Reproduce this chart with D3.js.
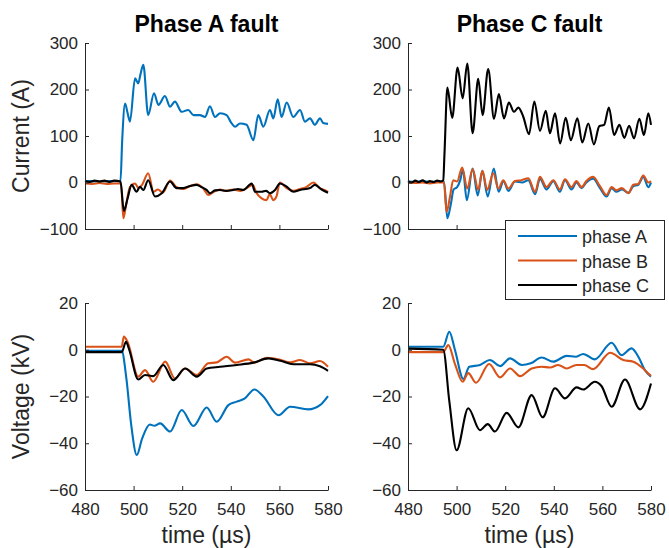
<!DOCTYPE html>
<html><head><meta charset="utf-8">
<script src="https://cdn.jsdelivr.net/npm/d3@7"></script>
<style>
body{margin:0;background:#fff}
text{font-family:"Liberation Sans",Arial,Helvetica,sans-serif;fill:#262626}
</style></head>
<body><svg id="c" width="669" height="548"></svg>
<script>
// ---------- data ----------
const timeTicks = [480, 500, 520, 540, 560, 580];
const currentTicks = [-100, 0, 100, 200, 300];
const voltageTicks = [-60, -40, -20, 0, 20];
const seriesNames = ["phase A", "phase B", "phase C"];
const titles = ["Phase A fault", "Phase C fault"];

// Phase A fault – currents [t (µs), A]
const faultA_curA = [[480,3],[483,3],[486,2],[489,3],[492,3],[494.6,3],[495.3,90],[496.5,170],[497.5,150],[498.5,131],[500.6,224],[501.9,213],[502.8,232],[504,253],[506,145],[508.4,192],[510.2,167],[512.9,186],[515,163],[517,174],[519.8,152],[522.5,156],[524.6,145],[527.3,145],[529.4,141],[531.4,164],[533.5,141],[535.6,149],[538.3,145],[540,130],[541.8,120],[543.8,127],[546.5,124],[549.3,91],[551.3,145],[553.4,120],[556.1,156],[557.5,138],[559.3,179],[560.9,141],[563,172],[565.7,141],[568.5,156],[570.5,131],[572.6,138],[574.6,124],[576.7,138],[578,128],[580,126]];
const faultA_curB = [[480,-2],[483,-3],[486,-1],[489,-3],[492,-2],[494.8,-2],[495.8,-77],[497,-45],[498.5,-10],[500.6,-2],[502,-12],[503.5,-5],[506,20],[508.2,-20],[510,-15],[512,-22],[515,4],[517.7,-10],[520.4,-14],[523,-8],[526,-4],[528.5,-12],[530.8,-27],[533,-20],[535.6,-15],[538,-18],[541,-15],[544,-18],[546.5,-12],[549,-5],[550.5,-22],[552.7,-34],[554.7,-38],[556,-25],[557.5,-38],[558.8,-30],[560.2,0],[563,-12],[565.7,-18],[568.5,-14],[571,-10],[574,0],[576.5,-12],[578.5,-16],[580,-20]];
const faultA_curC = [[480,3],[482,1],[484,4],[486,2],[488,4],[490,1],[492,4],[494.6,2],[496,-61],[497.5,-35],[499.2,-5],[501.2,-20],[502.6,-9],[504,-16],[506,5],[508.8,-30],[511.6,-23],[515,2],[517.7,-12],[520.4,-12],[523,-8],[525.9,-5],[528,-10],[530,-16],[531.4,-23],[533.5,-17],[535.6,-16],[538,-18],[541,-16],[543,-14],[545.2,-16],[548.6,-2],[550,-20],[552.7,-20],[554.5,-18],[556.1,-23],[558.2,-16],[560.2,-2],[563,-9],[565.7,-20],[568.5,-16],[572.6,-12],[574.6,-5],[577.4,-15],[580,-22]];

// Phase C fault – currents [t (µs), A]
const faultC_curA = [[480,2],[483,1],[486,3],[489,1],[492,2],[494.8,2],[496.2,-77],[497.5,-50],[498.8,-15],[500.2,-10],[501.5,5],[502.6,28],[504.2,-38],[506.6,30],[508.7,-28],[510.6,25],[512.8,-30],[515.3,30],[517.3,-20],[519.3,3],[521.3,-18],[524,2],[527,0],[529.5,5],[532.3,-25],[534.3,8],[537,-15],[539.8,3],[542.5,-20],[544.6,5],[547.3,-15],[549.3,0],[551.4,-12],[553.4,0],[556.2,8],[559,-12],[561.7,-30],[563.8,-12],[565.8,-20],[568,-15],[570.7,-22],[572.7,-8],[574.8,-5],[576.8,12],[578.9,-10],[580,0]];
const faultC_curB = [[480,0],[483,-1],[486,0],[489,-2],[492,0],[494.8,0],[495.9,-63],[497.3,-30],[498.6,5],[500.2,2],[502.3,32],[504.4,-13],[506.6,29],[508.9,-16],[510.6,25],[512.6,-16],[515.1,20],[517.2,-13],[519.2,5],[521.3,-13],[524,3],[526.7,5],[529.5,9],[532.3,-20],[534.3,12],[537,-10],[539.8,5],[542.5,-15],[544.6,7],[547.3,-10],[549.3,3],[551.4,-10],[553.4,3],[556.2,12],[559,-8],[561.7,-27],[563.8,-10],[565.8,-17],[568,-12],[570.7,-23],[572.7,-5],[574.8,-3],[576.8,15],[578.9,0],[580,3]];
const faultC_curC = [[480,3],[481.5,0],[483,4],[484.5,1],[486,5],[487.5,0],[489,3],[490.5,1],[492,4],[493.5,2],[494.5,5],[495,60],[496.2,204],[498.2,139],[500.4,247],[502.5,181],[504.4,256],[506.6,106],[508.9,223],[510.7,145],[513,244],[515.4,137],[517.4,190],[519.5,138],[521.5,172],[523.6,152],[525.4,161],[527.4,142],[529.8,104],[532,174],[534.3,111],[536.7,154],[538.4,106],[540.5,149],[542.6,84],[544.9,139],[547,91],[549.7,138],[551.7,86],[554.2,127],[556.5,82],[558.7,121],[560.7,124],[562.7,161],[564.8,102],[567,124],[569,96],[571,122],[573,95],[575.2,137],[577.1,102],[578.9,149],[580,124]];

// Phase A fault – voltages [t (µs), kV]
const faultA_volA = [[480,-0.5],[495.1,-0.5],[497,-12],[499,-32],[501.3,-45],[503.5,-38],[506.7,-32],[508.5,-32.5],[510.9,-31.5],[515,-35],[519.8,-25.8],[524.6,-32.6],[530.1,-24.7],[534.2,-30.8],[539,-23.7],[542.4,-22.2],[545.8,-20.8],[549.7,-17],[553.4,-20],[559.6,-28],[564.4,-24.4],[571.9,-25.5],[576.7,-23.7],[580,-19.8]];
const faultA_volB = [[480,1.3],[495.1,1.3],[496,5.6],[497.5,3.4],[501.9,-11.5],[504.7,-8.7],[508.1,-13.7],[513,-5.1],[517,-12.3],[521.2,-8],[526,-10.8],[530.7,-5.8],[534.2,-5.4],[538.3,-3],[541.8,-5.5],[547.3,-4.1],[549.7,-5.5],[554.7,-3.4],[559.6,-4.1],[564.4,-5.4],[568.5,-4.4],[572.6,-5.8],[576.7,-4.8],[580,-7.3]];
const faultA_volC = [[480,-1],[495.1,-1],[496.9,3.4],[498.2,0],[501.9,-12.7],[504.7,-10.8],[508.1,-11.3],[512.2,-6.5],[516.3,-13],[521.2,-8],[526,-11.5],[530.1,-8],[535.6,-7.3],[542.4,-6.5],[549.3,-5.5],[555.5,-3.7],[560.4,-4.7],[565.8,-6.2],[572.6,-6.2],[576.7,-7.1],[580,-9]];

// Phase C fault – voltages [t (µs), kV]
const faultC_volA = [[480,1.3],[494.5,1.3],[497,7.7],[499.3,0],[502.8,-12.5],[505.2,-7.3],[509.6,-6.5],[513.7,-4.4],[517.9,-7],[522,-3.7],[526.8,-6.5],[530.5,-5.8],[535,-3.3],[539.8,-5.1],[545.3,-2.6],[549,-3],[552.1,-1.8],[556.9,-4.1],[563.8,3],[567.9,-2.3],[572,0.6],[574.8,-3],[577.5,-8.7],[580,-11.5]];
const faultC_volB = [[480,-1],[494.5,-1],[496.6,2],[499.3,-6],[502.5,-13.7],[504.8,-10],[508,-14.1],[513.4,-6.1],[517.9,-11.8],[522,-8],[526.1,-11.3],[530.9,-8],[535,-7.3],[538.5,-7.6],[541.8,-6.5],[545.3,-8],[549.3,-6.5],[552.5,-6.5],[556.2,-8.3],[563.2,-1.3],[568.6,-4.4],[572.7,-5.1],[576.8,-8],[579.6,-10.8],[580,-11]];
const faultC_volC = [[480,0.5],[494.5,0],[497,-22],[500,-43],[504.8,-25],[509.6,-34.4],[512.8,-31.8],[515.8,-35],[520.6,-27],[525.4,-33.2],[530.9,-19.4],[535.4,-28.9],[540.5,-16.5],[544.6,-20.8],[549.4,-16.1],[552.1,-17],[556.9,-13.7],[559.6,-15.5],[563.8,-24.4],[569.3,-12.7],[575.5,-25.5],[580,-14.4]];

// ---------- drawing ----------
const colors = ["#0072BD", "#D95319", "#000000"];
const svg = d3.select("#c");
const cols = [{x0:85, x1:328}, {x0:408, x1:651}];
const rows = [
  {y0:43, y1:229, domain:[-100,300], ticks:currentTicks, label:"Current (A)", xlabels:false,
   data:[[faultA_curA, faultA_curB, faultA_curC],[faultC_curA, faultC_curB, faultC_curC]]},
  {y0:303, y1:490, domain:[-60,20], ticks:voltageTicks, label:"Voltage (kV)", xlabels:true,
   data:[[faultA_volA, faultA_volB, faultA_volC],[faultC_volA, faultC_volB, faultC_volC]]}
];

rows.forEach((r, ri) => {
  cols.forEach((c, ci) => {
    const x = d3.scaleLinear().domain([480,580]).range([c.x0, c.x1]);
    const y = d3.scaleLinear().domain(r.domain).range([r.y1, r.y0]);
    const g = svg.append("g");
    const line = d3.line().x(d => x(d[0])).y(d => y(d[1])).curve(d3.curveMonotoneX);
    r.data[ci].forEach((s, si) => {
      g.append("path").datum(s).attr("d", line)
        .attr("fill","none").attr("stroke", colors[si]).attr("stroke-width", 2.1)
        .attr("stroke-linejoin","round");
    });
    const xa = d3.axisBottom(x).tickValues(timeTicks).tickSizeInner(-4).tickSizeOuter(0).tickPadding(10);
    if (!r.xlabels) xa.tickFormat("");
    const gx = g.append("g").attr("transform", `translate(0,${r.y1})`).call(xa);
    const ya = d3.axisLeft(y).tickValues(r.ticks).tickSizeInner(-4).tickSizeOuter(0).tickPadding(7);
    const gy = g.append("g").attr("transform", `translate(${c.x0},0)`).call(ya);
    [gx, gy].forEach(a => {
      a.selectAll("path, line").attr("stroke", "#262626").attr("stroke-width", 1);
      a.selectAll("text").attr("font-size", 17).attr("fill", "#262626")
        .style("font-family", '"Liberation Sans",Arial,sans-serif');
    });
    gx.selectAll("text").attr("dy", "0.9em");
    if (ri === 0) {
      svg.append("text").attr("x", (c.x0 + c.x1)/2).attr("y", 32)
        .attr("text-anchor","middle").attr("font-size", 23).attr("font-weight","bold")
        .style("fill","#000").text(titles[ci]);
    } else {
      svg.append("text").attr("x", (c.x0 + c.x1)/2).attr("y", 543)
        .attr("text-anchor","middle").attr("font-size", 23).text("time (µs)");
    }
    if (ci === 0) {
      svg.append("text").attr("transform", `translate(29,${(r.y0 + r.y1)/2}) rotate(-90)`)
        .attr("text-anchor","middle").attr("font-size", 23).text(r.label);
    }
  });
});

// legend
const lg = svg.append("g");
lg.append("rect").attr("x", 505.5).attr("y", 220.5).attr("width", 159).attr("height", 79)
  .attr("fill","#fff").attr("stroke","#262626").attr("stroke-width",1);
seriesNames.forEach((n, i) => {
  const ly = 236 + i * 24.5;
  lg.append("line").attr("x1", 518).attr("x2", 577).attr("y1", ly).attr("y2", ly)
    .attr("stroke", colors[i]).attr("stroke-width", 2);
  lg.append("text").attr("x", 582).attr("y", ly + 7).attr("font-size", 18).text(n);
});
</script></body></html>
